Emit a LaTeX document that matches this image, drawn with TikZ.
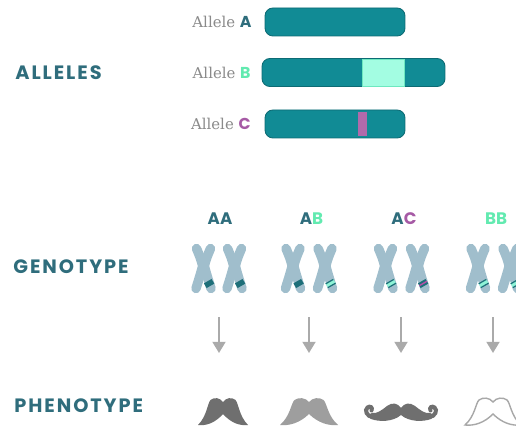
\documentclass[tikz,border=0pt]{standalone}
\usepackage{fontspec}
\usetikzlibrary{arrows.meta}
\newfontfamily\headfont{Poppins}[LetterSpace=10]
\newfontfamily\tagfont{Poppins}
\newfontfamily\slabfont{DejaVu Serif}

\definecolor{headteal}{HTML}{2F6D7C}
\definecolor{barteal}{HTML}{118B95}
\definecolor{bardark}{HTML}{0D6B74}
\definecolor{seglight}{HTML}{A3FDE2}
\definecolor{segedge}{HTML}{6EE8C0}
\definecolor{barpurple}{HTML}{B06AAB}
\definecolor{tagB}{HTML}{62EAB0}
\definecolor{tagC}{HTML}{A65AA5}
\definecolor{slabgray}{HTML}{8A8A8A}
\definecolor{chromgray}{HTML}{A0BECC}
\definecolor{banddark}{HTML}{1E6F79}
\definecolor{bandlight}{HTML}{8EF3D6}
\definecolor{bandpurple}{HTML}{B450A8}
\definecolor{arrgray}{HTML}{AAAAAA}
\definecolor{stachedark}{HTML}{6F6F6F}
\definecolor{stachemid}{HTML}{9E9E9E}
\definecolor{stacheline}{HTML}{A8A8A8}

\begin{document}
\begin{tikzpicture}[x=0.02cm, y=-0.02cm,
	heading/.style={anchor=west, inner sep=0pt, text=headteal,
		font=\headfont\bfseries\fontsize{11}{13}\selectfont},
	allele/.style={anchor=east, inner sep=0pt, text=slabgray,
		font=\slabfont\fontsize{8.5}{10}\selectfont},
	bar/.style={draw=bardark, fill=barteal, line width=0.5pt, rounded corners=4.5pt,
		minimum height=0.56cm, inner sep=0pt},
	gtag/.style={inner sep=0pt, font=\tagfont\bfseries\fontsize{9.5}{11}\selectfont},
	chromatid/.style={draw=chromgray, line width=5.4pt, line cap=round},
	arr/.style={-{Triangle[width=7.4pt, length=6.4pt]}, draw=arrgray, line width=1.2pt},
	pics/bandA/.style={code={
		\fill[banddark] (-4.4,-2.7) rectangle (4.4,2.7);}},
	pics/bandB/.style={code={
		\fill[bandlight] (-4.4,-2.7) rectangle (4.4,2.7);
		\draw[banddark, line width=0.7pt] (-4.4,-2.2) -- (4.4,-2.2) (-4.4,2.2) -- (4.4,2.2);}},
	pics/bandC/.style={code={
		\fill[banddark] (-4.4,-2.7) rectangle (4.4,2.7);
		\draw[bandpurple, line width=0.8pt] (-4.4,0) -- (4.4,0);}},
	pics/xchromo/.style={code={
		\draw[chromatid] (-7,-17.5) .. controls (-3,-8) .. (-0.8,0) .. controls (-3,8) .. (-7.5,22.5);
		\draw[chromatid] (7,-17.5) .. controls (3,-8) .. (0.8,0) .. controls (3,8) .. (7.5,22.5);
		\pic[rotate=30] at (5.6,17.5) {#1};}},
	pics/broadstache/.style={code={
		\path[pic actions] (0,3) .. controls (3,-1.5) and (9,-2) .. (12.5,1)
			.. controls (15.5,4) and (16,17) .. (25,26)
			.. controls (17,27) and (8,24) .. (0,15)
			.. controls (-8,24) and (-17,27) .. (-25,26)
			.. controls (-16,17) and (-15.5,4) .. (-12.5,1)
			.. controls (-9,-2) and (-3,-1.5) .. (0,3) -- cycle;}},
	pics/curlstache/.style={code={
		\fill[stachedark] (0,6) .. controls (3,1) and (9,0) .. (14,4)
			.. controls (19,8) and (24,12) .. (29,11)
			.. controls (32,11) and (33,16) .. (30,17)
			.. controls (22,20) and (8,20) .. (0,13)
			.. controls (-8,20) and (-22,20) .. (-30,17)
			.. controls (-33,16) and (-32,11) .. (-29,11)
			.. controls (-24,12) and (-19,8) .. (-14,4)
			.. controls (-9,0) and (-3,1) .. (0,6) -- cycle;
		\draw[stachedark, line width=2.3pt, line cap=round]
			(28,15) .. controls (34,15) and (37,8) .. (33.5,5.5)
			.. controls (31,3.5) and (28,5.5) .. (29.5,8.5)
			(-28,15) .. controls (-34,15) and (-37,8) .. (-33.5,5.5)
			.. controls (-31,3.5) and (-28,5.5) .. (-29.5,8.5);}}
]
	\useasboundingbox (0,0) rectangle (516,428);
	\clip (0,0) rectangle (516,428);

	% Row headings
	\node[heading] (alleles) at (15,73) {ALLELES};
	\node[heading] (genotype) at (13,267) {GENOTYPE};
	\node[heading] (phenotype) at (14,405.5) {PHENOTYPE};

	% Allele bars
	\node[allele] (labA) at (252,22)
		{Allele {\tagfont\bfseries\fontsize{9}{11}\selectfont\textcolor{headteal}{A}}};
	\node[bar, minimum width=2.8cm] (barA) at (335,22) {};

	\node[allele] (labB) at (251,72.5)
		{Allele {\tagfont\bfseries\fontsize{9}{11}\selectfont\textcolor{tagB}{B}}};
	\node[bar, minimum width=3.66cm] (barB) at (353.5,72.5) {};
	\node[draw=segedge, fill=seglight, line width=0.5pt, inner sep=0pt,
		minimum width=0.84cm, minimum height=0.54cm] (segB) at (383,72.5) {};

	\node[allele] (labC) at (251,124)
		{Allele {\tagfont\bfseries\fontsize{9}{11}\selectfont\textcolor{tagC}{C}}};
	\node[bar, minimum width=2.8cm] (barC) at (335,124) {};
	\node[fill=barpurple, inner sep=0pt,
		minimum width=0.18cm, minimum height=0.48cm] (segC) at (362.5,124) {};

	% Genotype pairs
	\node[gtag, text=headteal] (tAA) at (220,218.5) {AA};
	\node[gtag] (tAB) at (311.5,218.5) {\textcolor{headteal}{A}\textcolor{tagB}{B}};
	\node[gtag] (tAC) at (404,218.5) {\textcolor{headteal}{A}\textcolor{tagC}{C}};
	\node[gtag, text=tagB] (tBB) at (496,218.5) {BB};

	\pic (xAA1) at (203.5,266) {xchromo=bandA};
	\pic (xAA2) at (234.5,266) {xchromo=bandA};
	\pic (xAB1) at (293,266) {xchromo=bandA};
	\pic (xAB2) at (325,266) {xchromo=bandB};
	\pic (xAC1) at (385.5,266) {xchromo=bandB};
	\pic (xAC2) at (417.5,266) {xchromo=bandC};
	\pic (xBB1) at (478,266) {xchromo=bandB};
	\pic (xBB2) at (510,266) {xchromo=bandB};

	% Genotype to phenotype
	\coordinate (gAA) at (219,317);
	\coordinate (gAB) at (309,317);
	\coordinate (gAC) at (401,317);
	\coordinate (gBB) at (493,317);
	\coordinate (pAA) at (219,353);
	\coordinate (pAB) at (309,353);
	\coordinate (pAC) at (401,353);
	\coordinate (pBB) at (493,353);

	\draw[arr] (gAA) -- (pAA);
	\draw[arr] (gAB) -- (pAB);
	\draw[arr] (gAC) -- (pAC);
	\draw[arr] (gBB) -- (pBB);

	% Phenotypes
	\pic[fill=stachedark] (mAA) at (223,399) {broadstache};
	\pic[fill=stachemid, xscale=1.16] (mAB) at (309,399) {broadstache};
	\pic (mAC) at (401,402) {curlstache};
	\pic[fill=white, draw=stacheline, line width=0.8pt, xscale=1.12] (mBB) at (493,399) {broadstache};
\end{tikzpicture}
\end{document}
